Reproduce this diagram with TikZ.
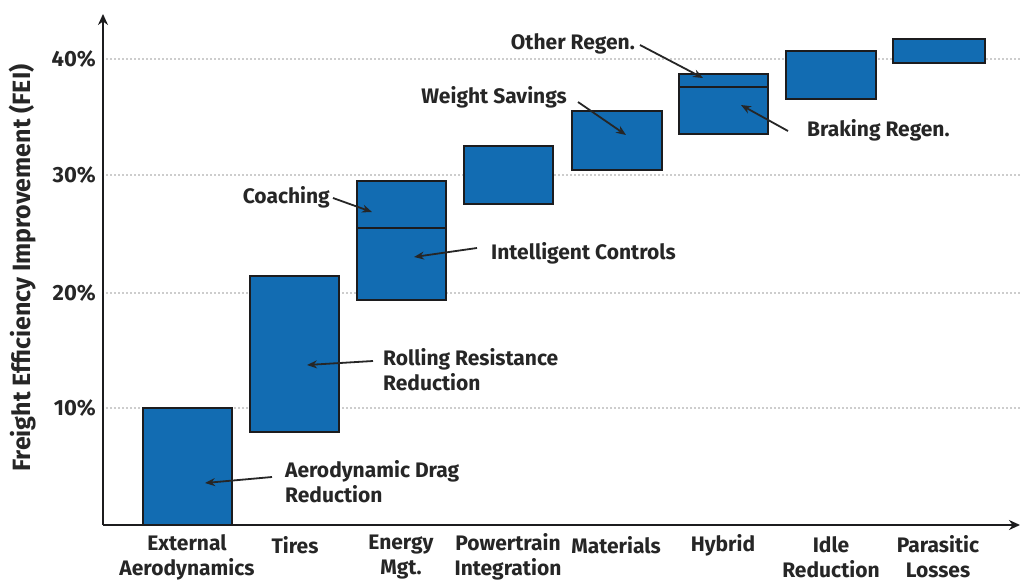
\documentclass[tikz,border=0pt]{standalone}
\usepackage{fontspec}
\setmainfont{Fira Sans}
\usetikzlibrary{arrows.meta,calc}
\definecolor{barblue}{RGB}{18,108,178}
\definecolor{barline}{RGB}{28,28,30}
\definecolor{txt}{RGB}{38,38,38}
\definecolor{gridc}{RGB}{205,205,205}
\tikzset{
  bar/.style={draw=barline, fill=barblue, line width=2.4pt, inner sep=0pt, outer sep=0pt},
  divline/.style={draw=barline, line width=2.4pt},
  lbl/.style={font=\bfseries\fontsize{21}{25}\selectfont, text=txt, inner sep=0pt, align=left},
  cat/.style={font=\bfseries\fontsize{21}{25}\selectfont, text=txt, inner sep=0pt, align=center},
  tick/.style={font=\bfseries\fontsize{22}{24}\selectfont, text=txt, inner sep=0pt, anchor=east},
  arr/.style={draw=txt, line width=1.8pt, -{Stealth[length=10pt,width=8pt]}},
  axis/.style={draw=barline, line width=2.2pt, -{Stealth[length=11pt,width=10pt]}},
  gridl/.style={draw=gridc, line width=1.6pt, dash pattern=on 2pt off 2pt}
}
\begin{document}
\begin{tikzpicture}[x=1pt,y=-1pt]
\useasboundingbox[fill=white] (0,0) rectangle (1021,582);
% grid lines
\foreach \yy in {59,175,293,408} \draw[gridl] (106,\yy) -- (1021,\yy);
% tick labels
\node[tick] (t40) at (96,59) {40\%};
\node[tick] (t30) at (96,175) {30\%};
\node[tick] (t20) at (96,293) {20\%};
\node[tick] (t10) at (96,408) {10\%};
% axis label
\node[font=\bfseries\fontsize{25}{27}\selectfont, text=txt, rotate=90, inner sep=0pt] (ylab) at (23,268) {Freight Efficiency Improvement (FEI)};
% axes
\coordinate (origin) at (103,525);
\coordinate (ytop) at (103,14);
\coordinate (xend) at (1020,525);
\draw[axis] (origin) -- (ytop);
\draw[axis] (origin) -- (xend);
% bars
\node[bar, anchor=north west, minimum width=89pt, minimum height=117pt] (aero) at (143,408) {};
\node[bar, anchor=north west, minimum width=89pt, minimum height=156pt] (tires) at (250,276) {};
\node[bar, anchor=north west, minimum width=89pt, minimum height=119pt] (energy) at (357,181) {};
\node[bar, anchor=north west, minimum width=89pt, minimum height=58pt] (power) at (464,146) {};
\node[bar, anchor=north west, minimum width=90pt, minimum height=59pt] (mater) at (572,111) {};
\node[bar, anchor=north west, minimum width=89pt, minimum height=60pt] (hybrid) at (679,74) {};
\node[bar, anchor=north west, minimum width=90pt, minimum height=48pt] (idle) at (786,51) {};
\node[bar, anchor=north west, minimum width=92pt, minimum height=24pt] (paras) at (893,39) {};
% dividers
\draw[divline] (energy.west |- 0,228) -- (energy.east |- 0,228);
\draw[divline] (hybrid.west |- 0,87) -- (hybrid.east |- 0,87);
% arrow tips
\coordinate (coachtip) at (372,212);
\coordinate (inteltip) at (414,257);
\coordinate (weighttip) at (626,135);
\coordinate (othertip) at (703,78);
\coordinate (braketip) at (741,105);
\coordinate (rolltip) at (307,365);
\coordinate (dragtip) at (205,483);
% annotation labels
\node[lbl, anchor=east] (coach) at (330,197) {Coaching};
\node[lbl, anchor=west] (intel) at (491,253) {Intelligent Controls};
\node[lbl, anchor=east] (weight) at (567,97) {Weight Savings};
\node[lbl, anchor=east] (other) at (635,44) {Other Regen.};
\node[lbl, anchor=west] (brake) at (807,130) {Braking Regen.};
\node[lbl, anchor=west] (roll) at (383,369.5) {Rolling Resistance\\Reduction};
\node[lbl, anchor=west] (drag) at (285,481.5) {Aerodynamic Drag\\Reduction};
% annotation arrows
\draw[arr] ($(coach.east)+(3,1)$) -- (coachtip);
\draw[arr] ($(intel.west)+(-14,-5)$) -- (inteltip);
\draw[arr] ($(weight.east)+(11,5)$) -- (weighttip);
\draw[arr] ($(other.east)+(5,1)$) -- (othertip);
\draw[arr] ($(brake.west)+(-19,1)$) -- (braketip);
\draw[arr] ($(roll.west)+(-10,-8.5)$) -- (rolltip);
\draw[arr] ($(drag.west)+(-13,-4.5)$) -- (dragtip);
% category labels
\node[cat] (c1) at (187,557) {External\\Aerodynamics};
\node[cat] (c2) at (295,545) {Tires};
\node[cat] (c3) at (401,557) {Energy\\Mgt.};
\node[cat] (c4) at (508,557) {Powertrain\\Integration};
\node[cat] (c5) at (616,545) {Materials};
\node[cat] (c6) at (723,545) {Hybrid};
\node[cat] (c7) at (831,557) {Idle\\Reduction};
\node[cat] (c8) at (938,557) {Parasitic\\Losses};
\end{tikzpicture}
\end{document}
